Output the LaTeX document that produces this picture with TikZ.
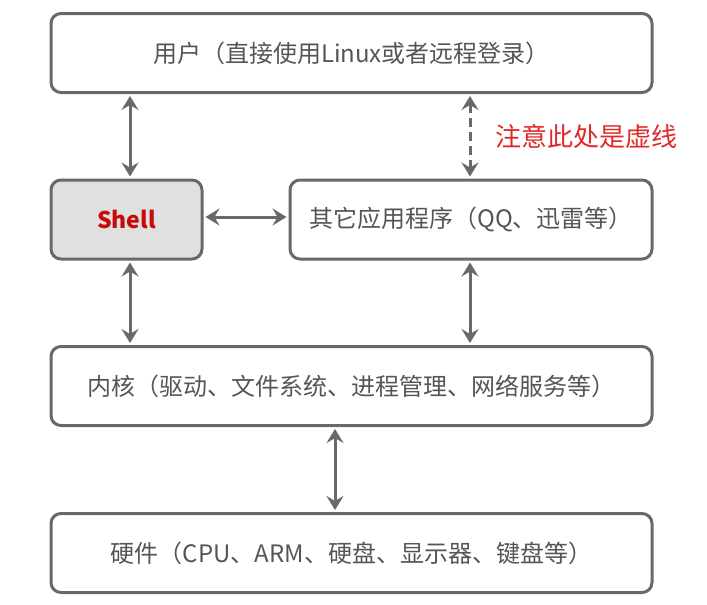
\documentclass[tikz,border=0pt]{standalone}
\usepackage{fontspec}
\setmainfont{Noto Sans CJK SC}
\usetikzlibrary{arrows.meta}
\definecolor{boxgray}{RGB}{105,105,105}
\definecolor{txtgray}{RGB}{85,85,85}
\definecolor{shellfill}{RGB}{224,224,224}
\definecolor{shellred}{RGB}{200,10,10}
\definecolor{notered}{RGB}{225,40,40}

\begin{document}
\begin{tikzpicture}
[x=1pt,y=-1pt,>={Stealth[length=14pt,width=17pt,inset=5pt]},
layer/.style={draw=boxgray,line width=3pt,rounded corners=10pt,inner sep=0pt,
  minimum height=79pt,text=txtgray,font=\fontsize{24}{29}\selectfont},
dbl/.style={<->,draw=boxgray,line width=3pt,shorten <=2pt,shorten >=2pt},
]
\useasboundingbox (0,0) rectangle (707,605);
\node (user) at (351.5, 53)[layer,minimum width=601pt]{用户（直接使用Linux或者远程登录）};
\node (shell) at (126.5, 219.5)[layer,minimum width=151pt,fill=shellfill]
  {\textcolor{shellred}{\fontsize{23}{27}\selectfont\bfseries Shell}};
\node (apps) at (471, 219.5)[layer,minimum width=362pt]{其它应用程序（QQ、迅雷等）};
\node (kernel) at (351.5, 386)[layer,minimum width=601pt]{内核（驱动、文件系统、进程管理、网络服务等）};
\node (hw) at (351.5, 553)[layer,minimum width=601pt]{硬件（CPU、ARM、硬盘、显示器、键盘等）};
\node (note) at (586, 137)[text=notered,font=\fontsize{26}{31}\selectfont]{注意此处是虚线};

\draw[dbl] ([xshift=3.5pt]user.south -| shell.south) -- ([xshift=3.5pt]shell.north);
\draw[dbl,dash pattern=on 9pt off 5pt] ([xshift=-1pt]user.south -| apps.north) -- ([xshift=-1pt]apps.north);
\draw[dbl] ([yshift=2.5pt]shell.east) -- ([yshift=2.5pt]shell.east -| apps.west);
\draw[dbl] ([xshift=3.5pt]shell.south) -- ([xshift=3.5pt]kernel.north -| shell.north);
\draw[dbl] ([xshift=-1pt]apps.south) -- ([xshift=-1pt]kernel.north -| apps.north);
\draw[dbl] ([xshift=-16.5pt]kernel.south) -- ([xshift=-16.5pt]hw.north);
%\draw[dbl] (kernel.south) -- (hw.north);

\end{tikzpicture}
\end{document}
